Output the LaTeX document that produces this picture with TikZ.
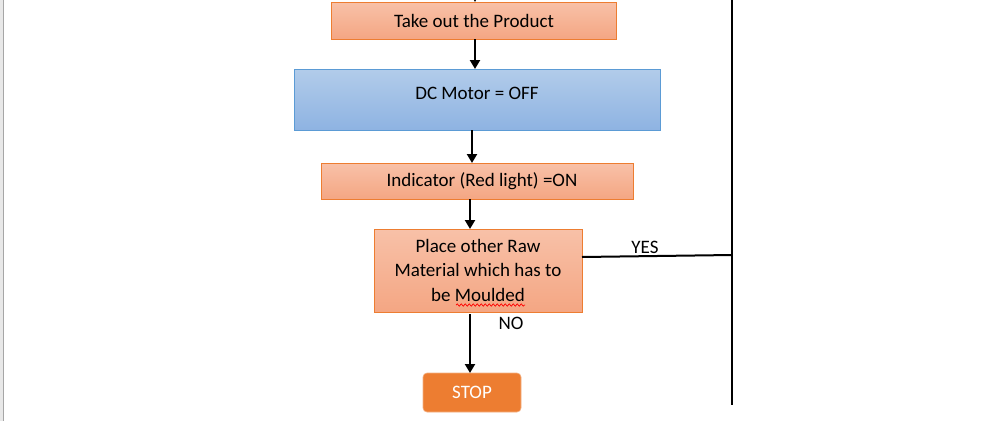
\documentclass[tikz,border=0pt]{standalone}
\usepackage{fontspec}
\setmainfont{Carlito}
\usetikzlibrary{arrows.meta,decorations.pathmorphing}
\definecolor{salmonTop}{HTML}{F8C1A8}
\definecolor{salmonBot}{HTML}{F4A683}
\definecolor{orangeEdge}{HTML}{ED7D31}
\definecolor{blueTop}{HTML}{B2CCEA}
\definecolor{blueBot}{HTML}{8EB3E2}
\definecolor{blueEdge}{HTML}{5B9BD5}
\definecolor{stopFill}{HTML}{ED7D31}
\tikzset{
  procbox/.style={draw=orangeEdge, line width=1pt, top color=salmonTop, bottom color=salmonBot},
  motorbox/.style={draw=blueEdge, line width=1pt, top color=blueTop, bottom color=blueBot},
  stopbox/.style={fill=stopFill, draw=stopFill!60!white, line width=0.6pt, rounded corners=4pt},
  flow/.style={line width=2.8pt, -{Triangle[length=9pt,width=10pt]}},
  plainline/.style={line width=2pt},
  lbl/.style={font=\fontsize{19}{23}\selectfont, inner sep=0pt}
}
\begin{document}
\begin{tikzpicture}[x=1pt,y=-1pt]
\useasboundingbox (0,0) rectangle (994,421);
\clip (0,0) rectangle (994,421);
\fill[white] (0,0) rectangle (994,421);
% page edge
\fill[gray!18] (0,0) rectangle (3,421);
\draw[gray!70, line width=0.8pt] (3.5,0) -- (3.5,421);

% boxes
\path[procbox] (331,2) rectangle (616,39);
\node[lbl] (take) at (474,20.5) {Take out the Product};
\coordinate (takeT) at (475,2);
\coordinate (takeB) at (475,39);

\path[motorbox] (294,69) rectangle (660,130);
\node[lbl] (motor) at (477,93) {DC Motor = OFF};
\coordinate (motorT) at (475,69);
\coordinate (motorB) at (472,130);

\path[procbox] (321,163) rectangle (633,199);
\node[lbl] (ind) at (482,181) {Indicator (Red light) =ON};
\coordinate (indT) at (472,163);
\coordinate (indB) at (470,199);

\path[procbox] (374,229) rectangle (582,312);
\node[lbl, align=center, font=\fontsize{19}{24.5}\selectfont] (place) at (478,270) {Place other Raw\\Material which has to\\be Moulded};
\coordinate (placeT) at (470,229);
\coordinate (placeB) at (470,314);
\coordinate (placeR) at (582,257);
\draw[red, line width=0.7pt, decoration={snake, amplitude=1.2pt, segment length=4pt}, decorate] (456,305) -- (525,305);

\path[stopbox] (423,373) rectangle (521,412);
\node[lbl, text=white] (stop) at (472,392) {STOP};
\coordinate (stopT) at (470,373);

% connectors
\coordinate (topin) at (475,-8);
\draw[flow] (topin) -- (takeT);
\draw[flow] (takeB) -- (motorT);
\draw[flow] (motorB) -- (indT);
\draw[flow] (indB) -- (placeT);
\draw[flow] (placeB) -- (stopT);

\coordinate (vtop) at (732,-2);
\coordinate (vbot) at (732,405);
\coordinate (vjoin) at (732,255);
\draw[plainline] (vtop) -- (vbot);
\draw[plainline] (placeR) -- (vjoin);

\node[lbl] (yes) at (645,247) {YES};
\node[lbl] (no) at (511,323) {NO};
\end{tikzpicture}
\end{document}
